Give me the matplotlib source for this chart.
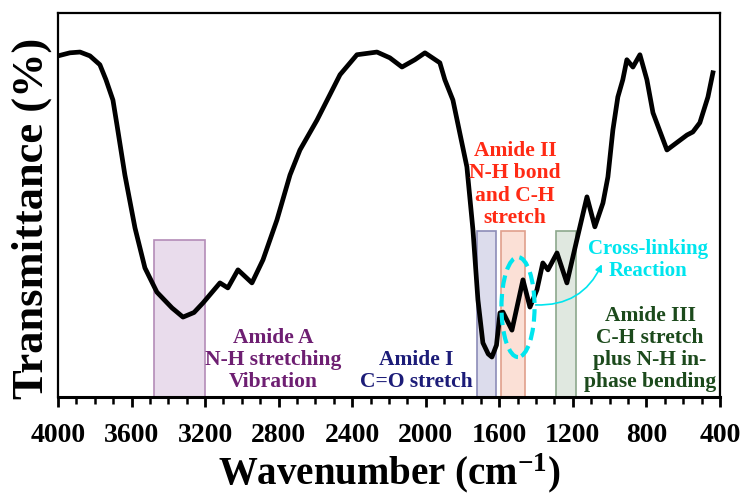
import matplotlib
matplotlib.use("Agg")
import matplotlib.pyplot as plt
from matplotlib.patches import Rectangle, Ellipse

plt.rcParams["font.family"] = ["Liberation Serif", "DejaVu Serif"]
plt.rcParams["font.weight"] = "bold"
plt.rcParams["mathtext.fontset"] = "custom"
plt.rcParams["mathtext.rm"] = "Liberation Serif:bold"
plt.rcParams["mathtext.default"] = "rm"

# FTIR spectrum (wavenumber cm-1, relative transmittance)
wavenumber = [4000, 3935, 3880, 3826, 3772, 3739, 3701, 3679, 3636, 3581,
              3527, 3462, 3380, 3320, 3260, 3211, 3119, 3076, 3021, 2945,
              2885, 2847, 2809, 2738, 2684, 2591, 2466, 2374, 2265, 2195,
              2129, 2059, 2004, 1923, 1896, 1852, 1776, 1743, 1716, 1689,
              1660, 1640, 1615, 1596, 1580, 1531, 1471, 1433, 1395, 1363,
              1335, 1286, 1232, 1178, 1123, 1080, 1036, 1009, 982, 955,
              928, 906, 873, 835, 797, 764, 688, 579, 547, 509,
              465, 438]
transmittance = [88.8, 89.6, 89.8, 88.8, 86.5, 82.6, 77.3, 70.8, 57.8, 44.0,
                 33.6, 27.3, 23.2, 20.8, 22.0, 24.5, 29.7, 28.4, 33.1, 29.7,
                 35.7, 40.9, 46.1, 57.8, 64.3, 72.1, 83.9, 89.1, 89.8, 88.3,
                 85.9, 87.8, 89.6, 87.0, 82.6, 77.3, 59.9, 43.5, 25.3, 14.1,
                 11.2, 10.4, 13.5, 21.9, 22.1, 17.4, 30.5, 23.4, 27.9, 34.9,
                 33.1, 37.5, 29.7, 40.9, 52.1, 44.3, 50.5, 57.3, 69.5, 78.1,
                 82.6, 87.8, 85.9, 89.1, 82.6, 74.0, 64.3, 68.2, 69.0, 71.4,
                 78.1, 84.4]

# highlighted bands: (high, low, top)
band_ranges = [(3480, 3200, 40.9), (1720, 1620, 43.2),
               (1590, 1460, 43.2), (1290, 1180, 43.2)]
band_fill = ["#e9dcec", "#dcdcec", "#fbe0d6", "#e0e8e0"]
band_edge = ["#b48cb8", "#8c8cb8", "#e0a08c", "#8ca88c"]

labels = ["Amide A\nN-H stretching\nVibration",
          "Amide I\nC=O stretch",
          "Amide II\nN-H bond\nand C-H\nstretch",
          "Amide III\nC-H stretch\nplus N-H in-\nphase bending"]
label_xy = [(2830, 1.2), (2050, 1.2), (1515, 44.0), (780, 1.2)]
label_color = ["#6e1f72", "#1c1c78", "#ff2a14", "#1c4a1c"]

fig = plt.figure(figsize=(7.46, 4.95), dpi=100)
ax = fig.add_axes([0.0777, 0.198, 0.8873, 0.776])

ax.plot(wavenumber, transmittance, color="black", lw=3.4, zorder=3,
        solid_joinstyle="round")

for (hi, lo, top), fc, ec in zip(band_ranges, band_fill, band_edge):
    ax.add_patch(Rectangle((lo, 0), hi - lo, top, facecolor=fc, edgecolor=ec,
                           lw=1.2, zorder=2))

for txt, (x, y), c in zip(labels, label_xy, label_color):
    ax.text(x, y, txt, color=c, fontsize=15.5, fontweight="bold",
            ha="center", va="bottom", linespacing=1.15, zorder=4)

# cross-linking marker
ax.add_patch(Ellipse((1498, 23.4), 180, 26, fill=False, edgecolor="#00e5ee",
                     lw=3, ls=(0, (3, 1.5)), zorder=4))
ax.annotate("", xy=(1036, 35.2), xytext=(1417, 24.0),
            arrowprops=dict(arrowstyle="-|>", color="#00e5ee", lw=1.2,
                            mutation_scale=10,
                            connectionstyle="arc3,rad=0.35"), zorder=4)
ax.text(792, 30.2, "Cross-linking\nReaction", color="#00e5ee", fontsize=15,
        fontweight="bold", ha="center", va="bottom", linespacing=1.15)

ax.set_xlim(4000, 400)
ax.set_ylim(0, 100)
ax.set_xticks(range(4000, 399, -400))
ax.set_xticks(range(4000, 399, -100), minor=True)
ax.set_yticks([])
ax.tick_params(axis="x", which="major", direction="out", length=7, width=2,
               labelsize=20, pad=12)
ax.tick_params(axis="x", which="minor", direction="out", length=5, width=1.8)
for s in ax.spines.values():
    s.set_linewidth(1.6)
ax.spines["bottom"].set_linewidth(2.2)

ax.set_xlabel("Wavenumber (cm$^{-1}$)", fontsize=28, fontweight="bold",
              labelpad=2)
ax.set_ylabel("Transmittance (%)", fontsize=32, fontweight="bold")
ax.yaxis.set_label_coords(-0.009, 0.466)

fig.savefig("out.png", dpi=100)
